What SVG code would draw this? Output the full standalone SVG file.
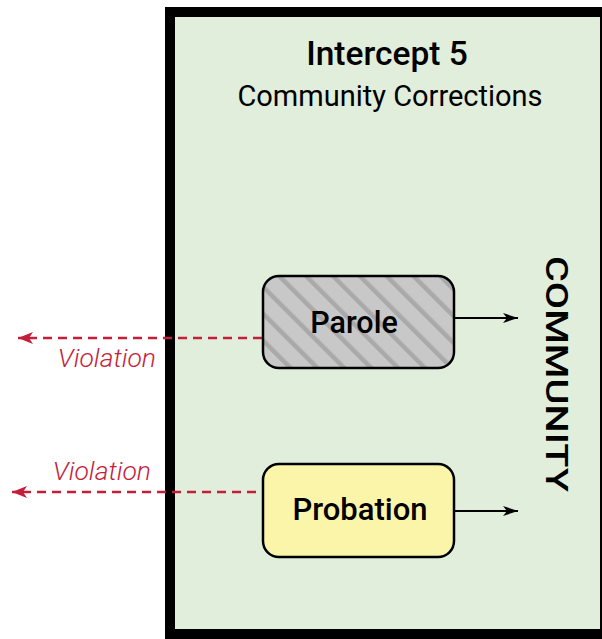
<svg xmlns="http://www.w3.org/2000/svg" width="602" height="639" viewBox="0 0 602 639">
<style>
.t{font-family:Roboto,"Liberation Sans",sans-serif;fill:#000}
.box{stroke:#000;stroke-width:2.5}
.red{fill:#c41e3a;font-family:Roboto,"Liberation Sans",sans-serif;font-style:italic;font-weight:300;font-size:26.5px}
.dash{stroke:#c41e3a;stroke-width:2.5;stroke-dasharray:9 6;fill:none}
.arr{stroke:#000;stroke-width:2.2;fill:none}
</style>
<defs>
<pattern id="hatch" patternUnits="userSpaceOnUse" width="19" height="19" patternTransform="rotate(-45)">
<rect width="19" height="19" fill="#c8c8c9"/>
<rect x="0" y="0" width="4.5" height="19" fill="#a9a9aa"/>
</pattern>
<marker id="ah" markerWidth="16" markerHeight="12" refX="15" refY="6" orient="auto" markerUnits="userSpaceOnUse">
<path d="M0,1 L15,6 L0,11 L4,6 Z" fill="#000"/>
</marker>
<marker id="rh" markerWidth="16" markerHeight="14" refX="15" refY="7" orient="auto" markerUnits="userSpaceOnUse">
<path d="M0,1 L15,7 L0,13 L4,7 Z" fill="#c41e3a"/>
</marker>
</defs>
<g id="frame">
<rect x="170" y="12" width="435" height="622" fill="#e0eedb" stroke="#000" stroke-width="10"/>
<text class="t" x="387" y="65" text-anchor="middle" font-size="33.5" font-weight="500">Intercept 5</text>
<text class="t" x="390" y="106" text-anchor="middle" font-size="29">Community Corrections</text>
<text class="t" transform="translate(546,374) rotate(90) scale(1.28,1)" text-anchor="middle" font-size="31" font-weight="500">COMMUNITY</text>
</g>
<g id="connectors">
<line class="arr" x1="455" y1="318" x2="518" y2="318" marker-end="url(#ah)"/>
<line class="arr" x1="455" y1="511" x2="518" y2="511" marker-end="url(#ah)"/>
<line class="dash" x1="262" y1="338" x2="18" y2="338" marker-end="url(#rh)"/>
<line class="dash" x1="256" y1="492" x2="12" y2="492" marker-end="url(#rh)"/>
<text class="red" x="156" y="367" text-anchor="end">Violation</text>
<text class="red" x="151" y="480" text-anchor="end">Violation</text>
</g>
<g id="parole">
<rect class="box" x="263" y="276" width="191" height="92" rx="16" fill="url(#hatch)"/>
<text class="t" x="354" y="333" text-anchor="middle" font-size="30.5" font-weight="500">Parole</text>
</g>
<g id="probation">
<rect class="box" x="263" y="464" width="191" height="93" rx="16" fill="#fbf5a9"/>
<text class="t" x="360" y="520" text-anchor="middle" font-size="31" font-weight="500">Probation</text>
</g>
</svg>
